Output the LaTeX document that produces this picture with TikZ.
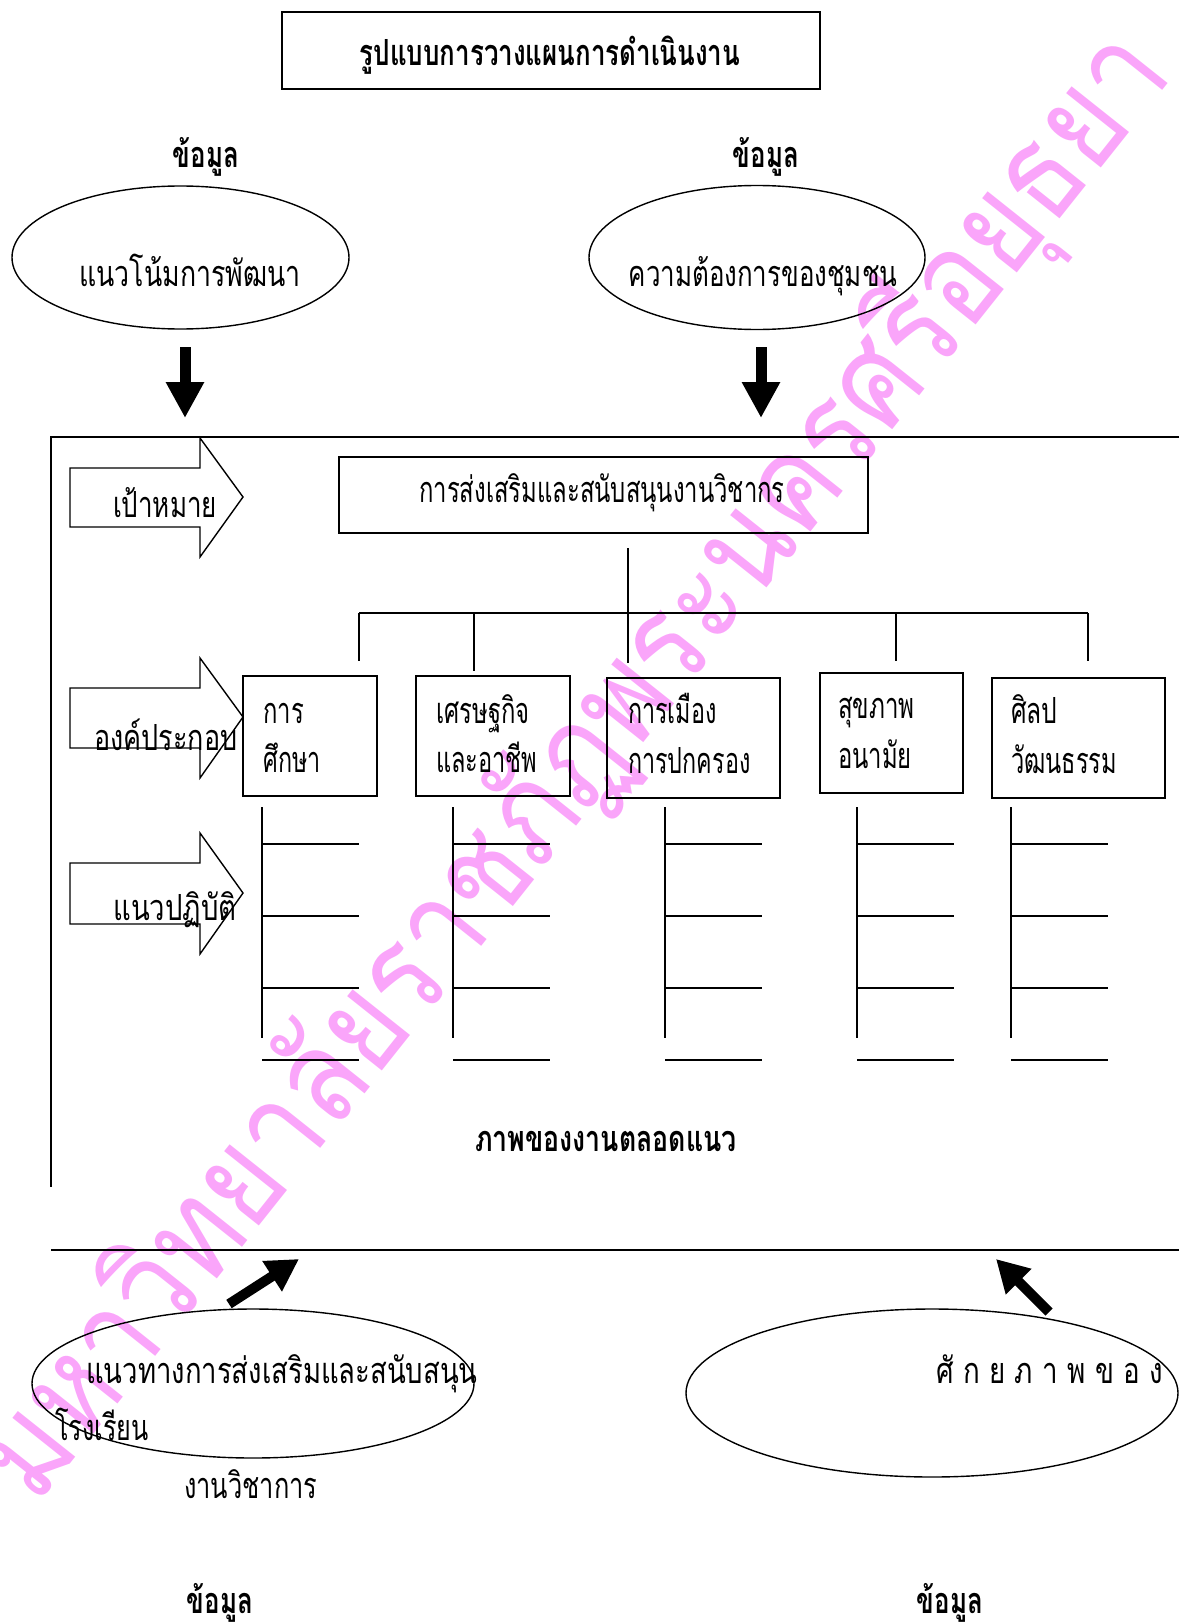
\documentclass[tikz,border=0pt]{standalone}
\usepackage{fontspec}
\newfontfamily\thf[Script=Thai,FakeStretch=0.72]{Loma}
\newfontfamily\wmf[Script=Thai,FakeStretch=0.85]{Loma}
\usetikzlibrary{shapes.geometric,arrows.meta}
\definecolor{wmpink}{RGB}{250,165,250}
\newcommand\hsc[2]{\scalebox{#1}[1]{#2}}
\begin{document}
\begin{tikzpicture}[x=1pt,y=-1pt,
  ln/.style={line width=1.6pt},
  rbox/.style={draw,line width=1.6pt,rectangle,inner sep=0pt,outer sep=0pt},
  oval/.style={draw,line width=1.4pt,ellipse,inner sep=0pt,outer sep=0pt},
  tx/.style={font=\thf\fontsize{36}{40}\selectfont,inner sep=0pt},
  txb/.style={font=\thf\bfseries\fontsize{36}{40}\selectfont,inner sep=0pt},
  fat/.style={line width=11pt,-{Triangle[width=36pt,length=36pt]}},
  wm/.style={font=\wmf\fontsize{132}{142}\selectfont,text=wmpink,inner sep=0pt}]
\useasboundingbox (0,0) rectangle (1179,1624);
% watermark
\node[wm,rotate=51.5] (wmark) at (575,767) {มหาวิทยาลัยราชภัฏพระนครศรีอยุธยา};
% title
\node[rbox,minimum width=538pt,minimum height=77pt] (title) at (551,50.5) {};
\node[txb,anchor=base] (titlet) at (550,66) {รูปแบบการวางแผนการดำเนินงาน};
% top data
\node[txb,anchor=base] (d1) at (206,168) {ข้อมูล};
\node[txb,anchor=base] (d2) at (766,168) {ข้อมูล};
\node[oval,minimum width=337pt,minimum height=143pt] (e1) at (180.5,257.5) {};
\node[oval,minimum width=336pt,minimum height=144pt] (e2) at (757,257.5) {};
\node[tx,anchor=base] (e1t) at (190,286) {\hsc{1.03}{แนวโน้มการพัฒนา}};
\node[tx,anchor=base] (e2t) at (763,286) {ความต้องการของชุมชน};
\coordinate (a1s) at (185,347); \coordinate (a1e) at (185,418);
\coordinate (a2s) at (761,347); \coordinate (a2e) at (761,418);
\draw[fat] (a1s) -- (a1e);
\draw[fat] (a2s) -- (a2e);
% frame
\coordinate (ftl) at (51,437); \coordinate (ftr) at (1179,437);
\coordinate (fbl) at (51,1187);
\coordinate (gl) at (51,1250); \coordinate (gr) at (1179,1250);
\draw[ln] (ftr) -- (ftl) -- (fbl);
\draw[ln] (gl) -- (gr);
% block arrows
\draw[line width=1.4pt] (70,468) -- (200,468) -- (200,438) -- (243,497) -- (200,557) -- (200,527) -- (70,527) -- cycle;
\draw[line width=1.4pt] (70,688) -- (200,688) -- (200,658) -- (243,717) -- (200,778) -- (200,748) -- (70,748) -- cycle;
\draw[line width=1.4pt] (70,863) -- (200,863) -- (200,833) -- (243,893) -- (200,954) -- (200,924) -- (70,924) -- cycle;
\node[tx,anchor=base] (k1) at (165,517) {เป้าหมาย};
\node[tx,anchor=base] (k2) at (166,750) {\hsc{1.04}{องค์ประกอบ}};
\node[tx,anchor=base] (k3) at (175,920) {\hsc{1.06}{แนวปฏิบัติ}};
% goal
\node[rbox,minimum width=529pt,minimum height=76pt] (goal) at (603.5,495) {};
\node[tx,anchor=base] (goalt) at (602,502) {\hsc{0.92}{การส่งเสริมและสนับสนุนงานวิชากร}};
% tree
\coordinate (s0) at (628,548); \coordinate (s1) at (628,663);
\draw[ln] (s0) -- (s1);
\coordinate (bl) at (359,613); \coordinate (br) at (1088,613);
\draw[ln] (bl) -- (br);
\coordinate (p1) at (359,661); \coordinate (q2) at (474,613); \coordinate (p2) at (474,671);
\coordinate (q4) at (896,613); \coordinate (p4) at (896,661); \coordinate (p5) at (1088,661);
\draw[ln] (bl) -- (p1);
\draw[ln] (q2) -- (p2);
\draw[ln] (q4) -- (p4);
\draw[ln] (br) -- (p5);
% component boxes
\node[rbox,minimum width=134pt,minimum height=120pt] (b1) at (310,736) {};
\node[rbox,minimum width=154pt,minimum height=120pt] (b2) at (493,736) {};
\node[rbox,minimum width=173pt,minimum height=120pt] (b3) at (693.5,738) {};
\node[rbox,minimum width=143pt,minimum height=120pt] (b4) at (891.5,733) {};
\node[rbox,minimum width=173pt,minimum height=120pt] (b5) at (1078.5,738) {};
\node[tx,anchor=base west] (b1a) at (263,723) {\hsc{0.92}{การ}};
\node[tx,anchor=base west] (b1b) at (263,772) {\hsc{0.9}{ศึกษา}};
\node[tx,anchor=base west] (b2a) at (436,723) {\hsc{0.92}{เศรษฐกิจ}};
\node[tx,anchor=base west] (b2b) at (436,772) {\hsc{0.91}{และอาชีพ}};
\node[tx,anchor=base west] (b3a) at (628,723) {\hsc{0.9}{การเมือง}};
\node[tx,anchor=base west] (b3b) at (628,773) {\hsc{0.9}{การปกครอง}};
\node[tx,anchor=base west] (b4a) at (838,718) {\hsc{0.93}{สุขภาพ}};
\node[tx,anchor=base west] (b4b) at (838,768) {\hsc{0.92}{อนามัย}};
\node[tx,anchor=base west] (b5a) at (1011,723) {\hsc{0.95}{ศิลป}};
\node[tx,anchor=base west] (b5b) at (1011,773) {\hsc{0.91}{วัฒนธรรม}};
% ladders
\foreach \x [count=\i] in {262,453,665,857,1011}{
  \coordinate (v\i t) at (\x,807); \coordinate (v\i b) at (\x,1038);
  \draw[ln] (v\i t) -- (v\i b);
  \foreach \y [count=\j] in {844,916,988,1060}{
    \coordinate (r\i\j a) at (\x,\y); \coordinate (r\i\j b) at (\x+97,\y);
    \draw[ln] (r\i\j a) -- (r\i\j b);
  }
}
\node[txb,anchor=base] (pic) at (606,1151) {\hsc{1.03}{ภาพของงานตลอดแนว}};
% bottom
\node[oval,minimum width=442pt,minimum height=149pt] (e3) at (253,1383.5) {};
\node[oval,minimum width=492pt,minimum height=168pt] (e4) at (932,1393) {};
\node[tx,anchor=base west] (e3a) at (86,1383) {\hsc{1.06}{แนวทางการส่งเสริมและสนับสนุน}};
\node[tx,anchor=base west] (e3b) at (55,1440) {\hsc{0.97}{โรงเรียน}};
\node[tx,anchor=base west] (e3c) at (184,1498) {\hsc{0.98}{งานวิชาการ}};
\node[tx,anchor=base west] (e4a) at (936,1383) {\hsc{1.07}{ศั\ ก\ ย\ ภ\ า\ พ\ ข\ อ\ ง}};
\coordinate (c1s) at (229,1304); \coordinate (c1e) at (299,1259);
\coordinate (c2s) at (1049,1312); \coordinate (c2e) at (996,1259);
\draw[line width=10pt,-{Triangle[width=34pt,length=32pt]}] (c1s) -- (c1e);
\draw[line width=10pt,-{Triangle[width=34pt,length=32pt]}] (c2s) -- (c2e);
\node[txb,anchor=base] (d3) at (220,1613) {ข้อมูล};
\node[txb,anchor=base] (d4) at (950,1613) {ข้อมูล};
\end{tikzpicture}
\end{document}
